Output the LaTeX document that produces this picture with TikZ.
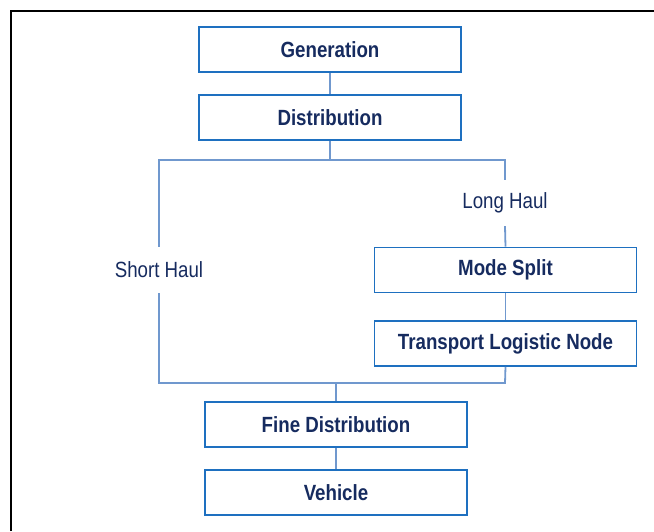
\documentclass[tikz,border=0pt]{standalone}
\usepackage{fontspec}
\setmainfont{Liberation Sans}[FakeStretch=0.85]
\definecolor{txtnavy}{RGB}{22,43,95}
\definecolor{boxblue}{RGB}{30,112,192}
\definecolor{lineblue}{RGB}{112,152,206}
\begin{document}
\begin{tikzpicture}[x=1pt,y=-1pt,
  stagebox/.style={draw=boxblue,line width=1.8pt,minimum width=262pt,minimum height=45pt,inner sep=0pt,
    text=txtnavy,font=\bfseries\fontsize{22}{24}\selectfont},
  lbl/.style={minimum height=46pt,inner sep=0pt,text=txtnavy,font=\fontsize{22}{24}\selectfont},
  conn/.style={draw=lineblue,line width=1.8pt}]
\useasboundingbox (0,0) rectangle (654,531);
\draw[line width=2pt,black] (11,531) -- (11,11) -- (654,11);
\node[stagebox] (gen) at (330,49.5) {Generation};
\node[stagebox] (dist) at (330,117.5) {Distribution};
\node[stagebox] (ms) at (505.5,270) {Mode Split};
\node[stagebox] (tln) at (505.5,343.5) {Transport Logistic Node};
\node[stagebox] (fd) at (336,424.5) {Fine Distribution};
\node[stagebox] (veh) at (336,492.5) {Vehicle};
\node[lbl] (sh) at (159,270) {Short Haul};
\node[lbl] (lh) at (505,203) {Long Haul};
\coordinate (tl) at (159,160);
\coordinate (tr) at (505,160);
\coordinate (bl) at (159,383);
\coordinate (brr) at (505,383);
\coordinate (bm) at (336,383);
\draw[conn] (gen.south) -- (dist.north);
\draw[conn] (dist.south) -- (dist.south |- tl);
\draw[conn] (sh.north) -- (tl) -- (tr) -- (lh.north);
\draw[conn] (lh.south) -- (ms.north);
\draw[conn] (ms.south) -- (tln.north);
\draw[conn] (sh.south) -- (bl) -- (brr) -- (tln.south);
\draw[conn] (bm) -- (fd.north);
\draw[conn] (fd.south) -- (veh.north);
\end{tikzpicture}
\end{document}
